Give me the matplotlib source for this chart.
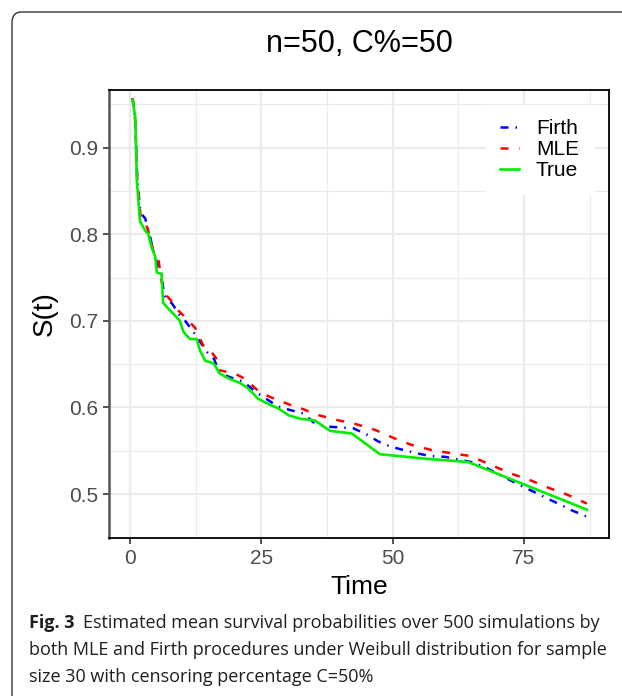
import matplotlib.pyplot as plt
from matplotlib.patches import FancyBboxPatch

# values
true_t = [0.5, 1.0, 1.3, 1.9, 2.9, 3.5, 4.1, 4.8, 5.1, 6.0, 6.3, 7.3, 8.6, 9.5, 10.2, 11.4, 12.7,
          13.3, 14.3, 15.9, 17.1, 19.0, 21.0, 22.5, 24.4, 26.7, 28.2, 30.2, 32.4, 35.2, 38.1,
          42.2, 47.6, 56.0, 64.4, 87.0]
true_s = [0.955, 0.935, 0.862, 0.815, 0.804, 0.800, 0.785, 0.774, 0.756, 0.754, 0.721, 0.714,
          0.706, 0.700, 0.687, 0.679, 0.679, 0.666, 0.654, 0.651, 0.639, 0.633, 0.628, 0.622,
          0.610, 0.603, 0.599, 0.591, 0.587, 0.585, 0.573, 0.570, 0.546, 0.541, 0.537, 0.482]

mle_t = [0.5, 1.0, 1.4, 2.0, 2.9, 3.8, 4.4, 5.4, 5.7, 6.3, 7.0, 8.0, 9.2, 10.5, 12.4, 13.9,
         15.0, 16.4, 17.0, 18.5, 20.0, 21.9, 24.8, 27.9, 31.4, 33.0, 35.4, 39.0, 42.9, 46.7,
         50.1, 53.5, 57.3, 61.3, 64.8, 68.6, 72.4, 76.2, 79.8, 83.4, 87.0]
mle_s = [0.957, 0.930, 0.860, 0.822, 0.815, 0.797, 0.782, 0.772, 0.758, 0.735, 0.729, 0.722,
         0.712, 0.704, 0.692, 0.672, 0.668, 0.657, 0.643, 0.641, 0.639, 0.633, 0.617, 0.609,
         0.601, 0.598, 0.592, 0.586, 0.581, 0.574, 0.565, 0.557, 0.551, 0.547, 0.544, 0.534,
         0.524, 0.516, 0.507, 0.499, 0.489]

firth_t = [0.5, 1.0, 1.4, 2.0, 2.9, 3.8, 4.4, 5.0, 5.4, 5.9, 6.5, 7.2, 8.0, 9.5, 10.5, 12.7,
           14.5, 16.0, 17.0, 19.0, 21.5, 24.4, 28.2, 30.5, 33.0, 34.9, 37.1, 40.0, 42.5, 45.0,
           47.2, 49.5, 52.0, 54.7, 57.1, 60.0, 62.5, 65.0, 67.6, 72.4, 74.7, 77.1, 79.4, 81.9,
           84.2, 87.0]
firth_s = [0.957, 0.930, 0.860, 0.825, 0.818, 0.798, 0.781, 0.770, 0.758, 0.756, 0.730, 0.724,
           0.720, 0.706, 0.700, 0.682, 0.665, 0.656, 0.640, 0.635, 0.630, 0.616, 0.601, 0.597,
           0.593, 0.583, 0.578, 0.577, 0.576, 0.569, 0.561, 0.555, 0.551, 0.547, 0.544, 0.543,
           0.540, 0.537, 0.531, 0.516, 0.509, 0.502, 0.495, 0.488, 0.481, 0.474]

caption = ["Estimated mean survival probabilities over 500 simulations by",
           "both MLE and Firth procedures under Weibull distribution for sample",
           "size 30 with censoring percentage C=50%"]

W, H = 622, 696
fig = plt.figure(figsize=(W / 100, H / 100), dpi=100)
fig.patch.set_facecolor("white")

# rounded frame around the figure (cut off at right/bottom)
frame = FancyBboxPatch((12 / W, -0.05), 1.2, 1 - 12 / H + 0.05,
                       boxstyle="round,pad=0,rounding_size=0.015",
                       transform=fig.transFigure, fill=False, ec="#333333", lw=1.0)
fig.patches.append(frame)

ax = fig.add_axes([109 / W, 1 - 538 / H, (609 - 109) / W, (538 - 90) / H])
ax.set_xlim(-4.0, 91.2)
ax.set_ylim(0.4493, 0.9665)

ax.set_xticks([0, 25, 50, 75])
ax.set_xticks([12.5, 37.5, 62.5, 87.5], minor=True)
ax.set_yticks([0.5, 0.6, 0.7, 0.8, 0.9])
ax.set_yticks([0.55, 0.65, 0.75, 0.85, 0.95], minor=True)
ax.grid(True, which="major", color="#ebebeb", lw=1.6)
ax.grid(True, which="minor", color="#ebebeb", lw=0.8)
ax.set_axisbelow(True)

lf = "Liberation Sans"
ax.tick_params(which="major", length=4, width=1.2, color="#333333", pad=4,
               labelsize=15, labelcolor="#4d4d4d")
ax.tick_params(which="minor", length=0)
for lab in ax.get_xticklabels() + ax.get_yticklabels():
    lab.set_family(lf)

for s in ax.spines.values():
    s.set_color("black")
    s.set_linewidth(1.3)
    s.set_zorder(5)
ax.spines["left"].set_color("#555555")
ax.spines["left"].set_linewidth(1.8)

ax.plot(firth_t, firth_s, color="#0000ff", lw=1.8, dashes=(3.2, 2.8, 0.6, 2.8), label="Firth")
ax.plot(mle_t, mle_s, color="#ff0000", lw=1.8, dashes=(3.2, 4.2), label="MLE")
ax.plot(true_t, true_s, color="#00ee00", lw=1.9, label="True")

ax.set_xlabel("Time", family=lf, fontsize=19, labelpad=5)
ax.set_ylabel("S(t)", family=lf, fontsize=20, labelpad=8)
ax.set_title("n=50, C%=50", family=lf, fontsize=22, pad=27)

leg = ax.legend(loc="upper right", bbox_to_anchor=(0.99, 0.99), frameon=True,
                prop={"family": lf, "size": 15}, handlelength=0.9, handletextpad=0.8,
                labelspacing=0.08, borderpad=0.7, fancybox=False)
leg.get_frame().set_edgecolor("white")
leg.get_frame().set_facecolor("white")
leg.get_frame().set_alpha(1)

# caption
cf = "Open Sans"
cc = "#1f1f1f"
fig.text(29 / W, 1 - 628 / H, "Fig. 3", family=cf, fontsize=13, fontweight="bold",
         va="baseline", color=cc)
fig.text(83 / W, 1 - 628 / H, caption[0], family=cf, fontsize=13, va="baseline", color=cc)
fig.text(29 / W, 1 - 655 / H, caption[1], family=cf, fontsize=13, va="baseline", color=cc)
fig.text(29 / W, 1 - 682 / H, caption[2], family=cf, fontsize=13, va="baseline", color=cc)

fig.savefig("out.png", dpi=100)
